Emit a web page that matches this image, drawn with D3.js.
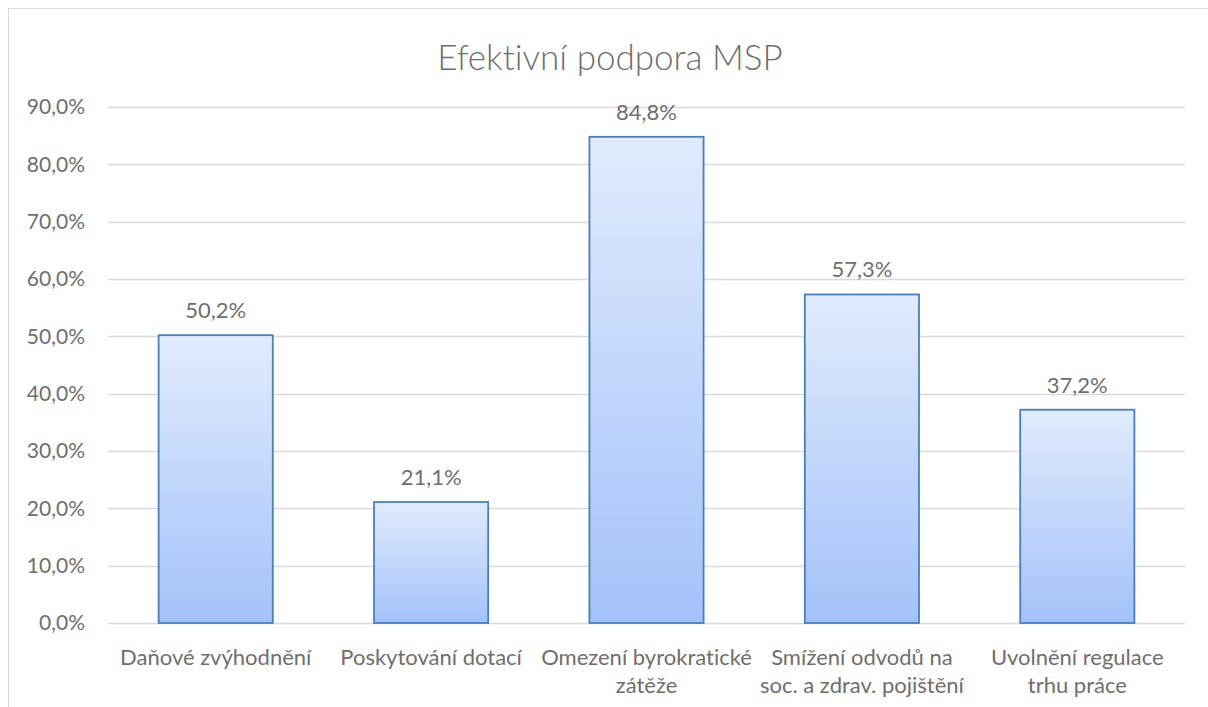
<!DOCTYPE html>
<html>
<head>
<meta charset="utf-8">
<script src="https://cdn.jsdelivr.net/npm/d3@7"></script>
<style>
  body { margin: 0; background: #fff; }
  svg text { font-family: Lato, "Open Sans", sans-serif; font-variant-ligatures: none; }
</style>
</head>
<body>
<div class="canvas"></div>
<script>
const categories = [
  ['Daňové zvýhodnění'],
  ['Poskytování dotací'],
  ['Omezení byrokratické', 'zátěže'],
  ['Smížení odvodů na', 'soc. a zdrav. pojištění'],
  ['Uvolnění regulace', 'trhu práce']
];
const values = [50.2, 21.1, 84.8, 57.3, 37.2];
const yTicks = [0, 10, 20, 30, 40, 50, 60, 70, 80, 90];
const chartTitle = 'Efektivní podpora MSP';

const width = 1208, height = 707;
let margin = { top: 107, right: 23, bottom: 84, left: 108 };
let graphWidth = width - margin.left - margin.right;
let graphHeight = height - margin.top - margin.bottom;
const textColor = '#6e6e6e';

const svg = d3.select('.canvas').append('svg')
    .attr('width', width)
    .attr('height', height);

// chart border (cropped on right & bottom)
svg.append('rect')
    .attr('x', 8.5).attr('y', 8.5)
    .attr('width', width + 20).attr('height', height + 20)
    .attr('fill', 'none')
    .attr('stroke', '#d9d9d9')
    .attr('stroke-width', 1);

const defs = svg.append('defs');
const grad = defs.append('linearGradient')
    .attr('id', 'barGrad')
    .attr('x1', 0).attr('y1', 0).attr('x2', 0).attr('y2', 1);
grad.append('stop').attr('offset', '0%').attr('stop-color', '#e1ebfd');
grad.append('stop').attr('offset', '100%').attr('stop-color', '#a3c2f9');

const graph = svg.append('g')
    .attr('transform', `translate(${margin.left}, ${margin.top})`);

const x = d3.scaleBand()
    .domain(categories.map((d, i) => i))
    .range([0, graphWidth])
    .paddingInner(0.47)
    .paddingOuter(0.235);

const y = d3.scaleLinear()
    .domain([0, 90])
    .range([graphHeight, 0]);

const fmt = v => v.toFixed(1).replace('.', ',') + '%';

// gridlines
graph.selectAll('.grid')
    .data(yTicks)
    .enter()
    .append('line')
    .attr('x1', 0).attr('x2', graphWidth)
    .attr('y1', d => Math.round(y(d)) + 0.5)
    .attr('y2', d => Math.round(y(d)) + 0.5)
    .attr('stroke', '#d9d9d9')
    .attr('stroke-width', 1.5);

// y axis labels
const yAxis = d3.axisLeft(y).tickValues(yTicks).tickFormat(fmt).tickSize(0).tickPadding(23);
const yg = graph.append('g').call(yAxis);
yg.select('.domain').remove();
yg.selectAll('text')
    .attr('font-size', '21px')
    .attr('font-family', 'Lato, sans-serif')
    .attr('fill', textColor);

// bars
graph.selectAll('rect.bar')
    .data(values)
    .enter()
    .append('rect')
    .attr('class', 'bar')
    .attr('x', (d, i) => x(i))
    .attr('y', d => y(d))
    .attr('width', x.bandwidth())
    .attr('height', d => graphHeight - y(d))
    .attr('fill', 'url(#barGrad)')
    .attr('stroke', '#4a7ebb')
    .attr('stroke-width', 1.8);

// data labels
graph.selectAll('text.lbl')
    .data(values)
    .enter()
    .append('text')
    .attr('class', 'lbl')
    .attr('x', (d, i) => x(i) + x.bandwidth() / 2)
    .attr('y', d => y(d) - 17)
    .attr('text-anchor', 'middle')
    .attr('font-size', '22px')
    .attr('fill', textColor)
    .text(d => fmt(d));

// category labels
const cats = graph.selectAll('text.cat')
    .data(categories)
    .enter()
    .append('text')
    .attr('class', 'cat')
    .attr('text-anchor', 'middle')
    .attr('font-size', '22px')
    .attr('fill', textColor)
    .attr('transform', (d, i) => `translate(${x(i) + x.bandwidth() / 2}, ${graphHeight + 42})`);
cats.selectAll('tspan')
    .data(d => d)
    .enter()
    .append('tspan')
    .attr('x', 0)
    .attr('dy', (d, i) => i === 0 ? 0 : 28)
    .text(d => d);

// title
svg.append('text')
    .attr('x', 610)
    .attr('y', 70)
    .attr('text-anchor', 'middle')
    .attr('font-size', '35px')
    .attr('font-weight', 300)
    .attr('fill', textColor)
    .text(chartTitle);
</script>
</body>
</html>
